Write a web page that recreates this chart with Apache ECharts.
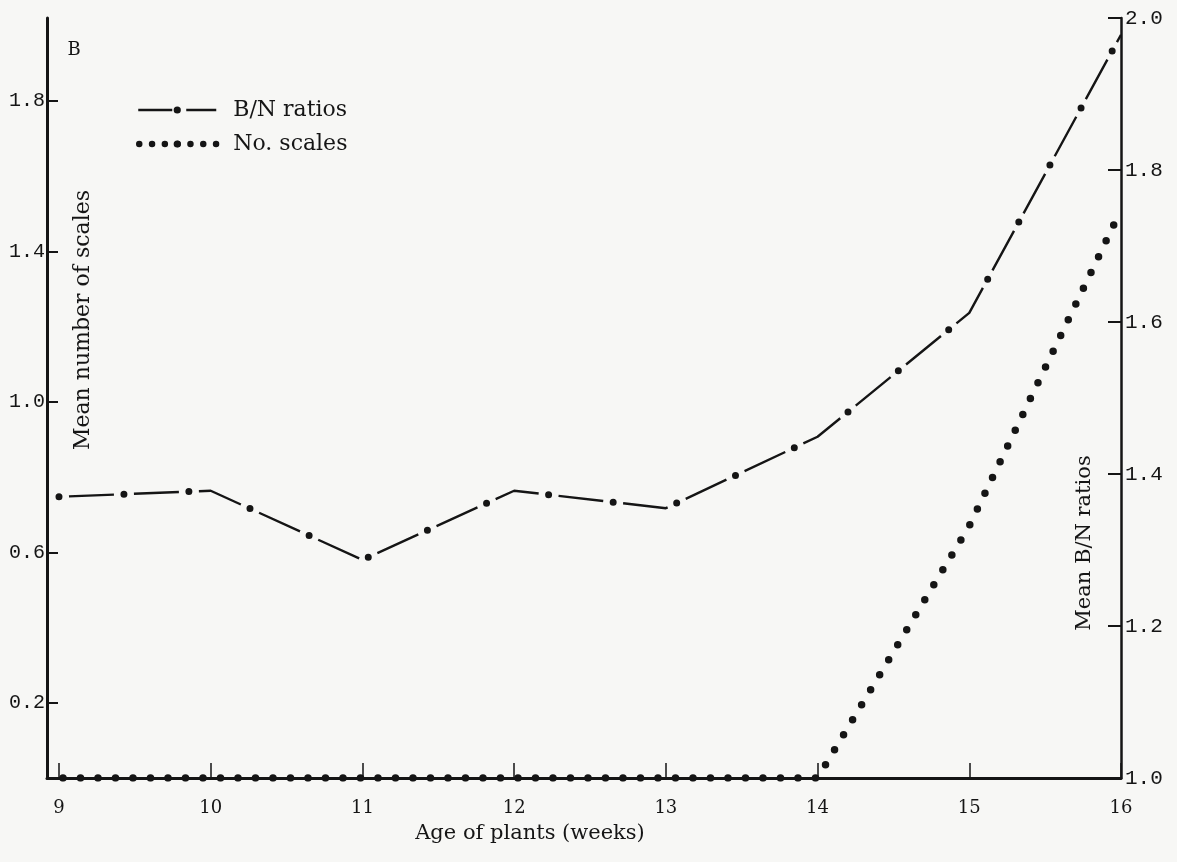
<!DOCTYPE html>
<html>
<head>
<meta charset="utf-8">
<script src="https://cdn.jsdelivr.net/npm/echarts@6/dist/echarts.min.js"></script>
<style>
html,body{margin:0;padding:0;background:#f7f7f5;}
#chart{width:1177px;height:862px;}
</style>
</head>
<body>
<div id="chart"></div>
<script>
// ---- data ----
var weeks = [9, 10, 11, 12, 13, 14, 15, 16];
var bnRatios = [1.370, 1.378, 1.287, 1.378, 1.355, 1.449, 1.612, 1.978];
var noScales = [0, 0, 0, 0, 0, 0, 0.67, 1.51];
var xTicks = [9, 10, 11, 12, 13, 14, 15, 16];
var leftTicks = [0.2, 0.6, 1.0, 1.4, 1.8];
var rightTicks = [1.0, 1.2, 1.4, 1.6, 1.8, 2.0];
var seriesNames = ['B/N ratios', 'No. scales'];

var ink = '#151515';
var serif = '"DejaVu Serif", serif';
var mono = '"Liberation Mono", monospace';

function pairs(vals) { return weeks.map(function (w, i) { return [w, vals[i]]; }); }

var chart = echarts.init(document.getElementById('chart'), null, { renderer: 'canvas' });
chart.setOption({
  backgroundColor: '#f7f7f5',
  animation: false,
  grid: { left: 47, right: 56, top: 18, bottom: 84 },
  legend: {
    left: 130, top: 94, orient: 'vertical',
    itemWidth: 78, itemHeight: 9, itemGap: 12,
    textStyle: { fontFamily: serif, fontSize: 22, color: ink, padding: [0, 0, 0, 12] },
    data: [
      { name: seriesNames[0], lineStyle: { type: [34, 14], width: 2.4, dashOffset: 0 }, itemStyle: { color: ink } },
      { name: seriesNames[1], lineStyle: { type: [0, 12.8], width: 6.5, cap: 'round', dashOffset: -1 } }
    ]
  },
  xAxis: {
    type: 'value', min: 8.921, max: 16,
    axisLine: { show: true, lineStyle: { color: ink, width: 3 } },
    axisTick: { show: true, inside: true, length: 15, lineStyle: { color: ink, width: 1.5 }, customValues: xTicks },
    axisLabel: { margin: 21, fontFamily: serif, fontSize: 18, color: ink, customValues: xTicks },
    splitLine: { show: false }
  },
  yAxis: [
    {
      type: 'value', min: 0, max: 2.02, position: 'left',
      axisLine: { show: true, onZero: false, lineStyle: { color: ink, width: 3 } },
      axisTick: { show: true, inside: true, length: 11, lineStyle: { color: ink, width: 2 }, customValues: leftTicks },
      axisLabel: { margin: 2, fontFamily: mono, fontSize: 20, color: ink, customValues: leftTicks,
        formatter: function (v) { return v.toFixed(1); } },
      splitLine: { show: false }
    },
    {
      type: 'value', min: 1.0, max: 2.0, interval: 0.2, position: 'right',
      axisLine: { show: true, onZero: false, lineStyle: { color: ink, width: 2.5 } },
      axisTick: { show: true, inside: true, length: 13, lineStyle: { color: ink, width: 2 } },
      axisLabel: { margin: 4, fontFamily: mono, fontSize: 21, color: ink,
        formatter: function (v) { return v.toFixed(1); } },
      splitLine: { show: false }
    }
  ],
  series: [
    {
      name: seriesNames[0], type: 'line', yAxisIndex: 1, data: pairs(bnRatios),
      symbol: 'circle', showSymbol: false, symbolSize: 7,
      itemStyle: { color: ink },
      lineStyle: { color: ink, width: 2.4, type: [45, 20], dashOffset: 55 },
      z: 3
    },
    {
      name: seriesNames[0] + ' dots', type: 'line', yAxisIndex: 1, data: pairs(bnRatios),
      symbol: 'none', silent: true,
      lineStyle: { color: ink, width: 7, type: [0, 65], cap: 'round', dashOffset: 0 },
      z: 3
    },
    {
      name: seriesNames[1], type: 'line', yAxisIndex: 0, data: pairs(noScales),
      symbol: 'none',
      itemStyle: { color: ink },
      lineStyle: { color: ink, width: 7.5, type: [0, 17.5], cap: 'round', dashOffset: -4 },
      z: 3
    }
  ],
  graphic: [
    { type: 'text', x: 74, y: 50, style: { text: 'B', font: '18px ' + serif, fill: ink, textAlign: 'center', textVerticalAlign: 'middle' } },
    { type: 'text', x: 83, y: 320, rotation: Math.PI / 2, style: { text: 'Mean number of scales', font: '22px ' + serif, fill: ink, textAlign: 'center', textVerticalAlign: 'middle' } },
    { type: 'text', x: 1085, y: 543, rotation: Math.PI / 2, style: { text: 'Mean B/N ratios', font: '21px ' + serif, fill: ink, textAlign: 'center', textVerticalAlign: 'middle' } },
    { type: 'text', x: 530, y: 834, style: { text: 'Age of plants (weeks)', font: '21px ' + serif, fill: ink, textAlign: 'center', textVerticalAlign: 'middle' } }
  ]
});
</script>
</body>
</html>
